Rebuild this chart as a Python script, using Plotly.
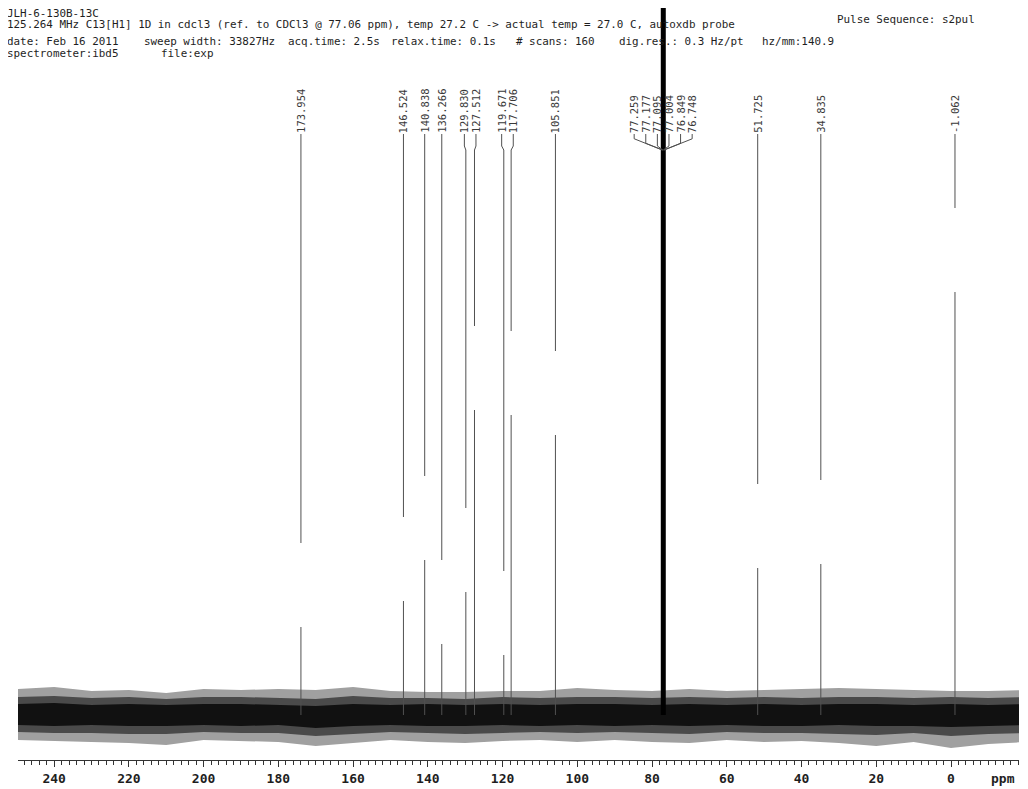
import plotly.graph_objects as go

# ---------------- data ----------------
peak_ppm = [173.954, 146.524, 140.838, 136.266, 129.830, 127.512, 119.671, 117.706,
            105.851, 77.259, 77.177, 77.095, 77.004, 76.849, 76.748, 51.725, 34.835, -1.062]
# peak heights (arbitrary intensity units, baseline = 0); CDCl3 peaks are off scale
peak_height = [88, 114, 155, 71, 123, 305, 60, 300,
               280, 1500, 1500, 1500, 1500, 1500, 1500, 147, 151, 423]
solvent = [False] * 9 + [True] * 6 + [False] * 3

# baseline noise envelopes
noise_ppm = [250, 240, 230, 220, 210, 200, 190, 180, 170, 160, 150, 140, 130, 120,
             110, 100, 90, 80, 70, 60, 50, 40, 30, 20, 10, 0, -10, -20]
noise_top = [26, 28, 24, 25, 22, 26, 25, 26, 25, 28, 24, 23, 23, 24,
             24, 27, 25, 24, 26, 24, 25, 26, 27, 26, 25, 24, 24, 25]
noise_bot = [-25, -26, -27, -28, -30, -25, -26, -27, -31, -28, -25, -27, -28, -26,
             -25, -27, -25, -27, -28, -25, -27, -26, -28, -31, -27, -33, -29, -27]
mid_top = [18, 19, 17, 18, 16, 18, 18, 17, 16, 19, 17, 17, 16, 18,
           17, 18, 18, 17, 18, 17, 18, 17, 18, 18, 17, 18, 17, 18]
mid_bot = [-17, -18, -18, -19, -19, -17, -18, -18, -21, -19, -17, -18, -19, -18,
           -17, -18, -17, -18, -19, -17, -18, -18, -19, -20, -18, -21, -19, -18]
core_top = [11, 12, 10, 11, 10, 11, 11, 10, 9, 11, 10, 11, 10, 11,
            10, 11, 11, 10, 11, 10, 11, 10, 11, 11, 10, 11, 10, 11]
core_bot = [-10, -11, -10, -11, -11, -10, -11, -10, -13, -11, -10, -11, -11, -10,
            -11, -10, -11, -10, -11, -10, -11, -11, -10, -11, -11, -12, -11, -10]

x_ticks = [240, 220, 200, 180, 160, 140, 120, 100, 80, 60, 40, 20, 0]

header1 = "JLH-6-130B-13C"
header2 = ("125.264 MHz C13[H1] 1D in cdcl3 (ref. to CDCl3 @ 77.06 ppm), temp 27.2 C "
           "-> actual temp = 27.0 C, autoxdb probe")
header3 = ["date: Feb 16 2011", "sweep width: 33827Hz", "acq.time: 2.5s",
           "relax.time: 0.1s", "# scans: 160", "dig.res.: 0.3 Hz/pt", "hz/mm:140.9"]
header4 = ["spectrometer:ibd5", "file:exp"]
pulse = "Pulse Sequence: s2pul"

# ---------------- layout geometry (screen pixels; page body has 8px margin) ----------------
OFF = 8
W, H = 1028 - OFF, 789 - OFF
PL, PR, PT, PB = 18, 1019, 8, 760          # plot area in screen pixels
PX_PER_PPM = 3.737
X0PX = 951.0             # screen x of 0 ppm
BASE_PX = 715.0          # baseline screen row
xr = [(X0PX - PL) / PX_PER_PPM, (X0PX - PR) / PX_PER_PPM]
yr = [BASE_PX - PB, BASE_PX - PT]


def ypx(v):
    return BASE_PX - v


def ppm_of(px):
    return (X0PX - px) / PX_PER_PPM


def px_of(ppm):
    return X0PX - ppm * PX_PER_PPM


def xp(px):
    return (px - PL) / (PR - PL)


def yp(py):
    return (PB - py) / (PB - PT)


fig = go.Figure()


def band(top, bot, color):
    fig.add_trace(go.Scatter(x=noise_ppm + noise_ppm[::-1], y=top + bot[::-1],
                             fill="toself", fillcolor=color, line=dict(width=0),
                             mode="lines", hoverinfo="skip", showlegend=False))


band(noise_top, noise_bot, "#a0a0a0")
band(mid_top, mid_bot, "#4a4a4a")
band(core_top, core_bot, "#111111")

# peaks
px_, py_ = [], []
sx, sy = [], []
for p, h, s in zip(peak_ppm, peak_height, solvent):
    if s:
        sx += [p, p, None]
        sy += [0, h, None]
    else:
        px_ += [p, p, None]
        py_ += [0, h, None]
fig.add_trace(go.Scatter(x=px_, y=py_, mode="lines", line=dict(color="#505050", width=1),
                         hoverinfo="skip", showlegend=False))
fig.add_trace(go.Scatter(x=sx, y=sy, mode="lines", line=dict(color="#000000", width=3),
                         hoverinfo="skip", showlegend=False))

# label placement (spread clustered labels)
SP = 11.6
pk_px = [px_of(p) for p in peak_ppm]
order = sorted(range(len(pk_px)), key=lambda i: pk_px[i])
groups = []
for i in order:
    if groups and pk_px[i] - pk_px[groups[-1][-1]] < SP:
        groups[-1].append(i)
    else:
        groups.append([i])
lab_px = [0.0] * len(pk_px)
for g in groups:
    c = sum(pk_px[i] for i in g) / len(g)
    n = len(g)
    for k, i in enumerate(g):
        lab_px[i] = c + (k - (n - 1) / 2) * SP

LAB_BOTTOM = 134
JOG_END = 150
GAP = 84
lx, ly = [], []
for i, (p, h) in enumerate(zip(peak_ppm, peak_height)):
    dx = lab_px[i] - pk_px[i]
    end_px = ypx(h + GAP)
    pts = [(lab_px[i], LAB_BOTTOM)]
    if abs(dx) > 0.8:
        js = JOG_END - max(4.0, 0.4 * abs(dx))
        pts.append((lab_px[i], js))
        pts.append((pk_px[i], JOG_END))
    if end_px > pts[-1][1]:
        pts.append((pk_px[i], end_px))
    for (a, b) in pts:
        lx.append(ppm_of(a))
        ly.append(ypx(b))
    lx.append(None)
    ly.append(None)
fig.add_trace(go.Scatter(x=lx, y=ly, mode="lines", line=dict(color="#505050", width=1),
                         hoverinfo="skip", showlegend=False))

ann = []
mono = "DejaVu Sans Mono"
for i, p in enumerate(peak_ppm):
    ann.append(dict(x=ppm_of(lab_px[i]), y=ypx(LAB_BOTTOM), xref="x", yref="y",
                    text=f"{p:.3f}", textangle=-90, showarrow=False,
                    xanchor="center", yanchor="bottom", borderpad=0,
                    font=dict(family=mono, size=10.5, color="#3a3a3a")))

hfont = dict(family=mono, size=10.9, color="#1e1e1e")


def head(t, x, y):
    ann.append(dict(x=xp(x), y=yp(y), xref="paper", yref="paper", text=t,
                    showarrow=False, xanchor="left", yanchor="middle", borderpad=0,
                    font=hfont))


head(header1, 6, 13)
head(header2, 6, 24.5)
for t, xx in zip(header3, [6, 143, 287, 390, 515, 618, 761]):
    head(t, xx, 41.5)
for t, xx in zip(header4, [6, 160]):
    head(t, xx, 53.5)
head(pulse, 836, 20)
ann.append(dict(x=xp(1017), y=yp(778), xref="paper", yref="paper", text="ppm",
                showarrow=False, xanchor="right", yanchor="middle",
                font=dict(family=mono, size=13, color="#1e1e1e", weight="bold")))

fig.update_layout(
    width=W, height=H,
    margin=dict(l=PL - OFF, r=W - (PR - OFF), t=PT - OFF, b=H - (PB - OFF), pad=0),
    paper_bgcolor="white", plot_bgcolor="white",
    showlegend=False,
    annotations=ann,
    xaxis=dict(range=xr, showgrid=False, zeroline=False,
               showline=True, linecolor="#333333", linewidth=1,
               tickmode="array", tickvals=x_ticks, ticktext=[str(v) for v in x_ticks],
               ticks="outside", ticklen=6, tickwidth=1, tickcolor="#333333",
               minor=dict(tickmode="linear", tick0=0, dtick=2, ticks="outside",
                          ticklen=4, tickcolor="#333333", tickwidth=1),
               tickfont=dict(family=mono, size=13, color="#1e1e1e", weight="bold"),
               fixedrange=True),
    yaxis=dict(range=yr, visible=False, fixedrange=True),
)

fig.write_html("out.html")
